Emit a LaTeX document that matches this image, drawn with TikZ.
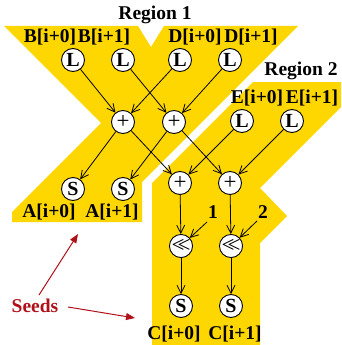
\documentclass[tikz,border=0pt]{standalone}
\usepackage{fontspec}
\setmainfont{Liberation Serif}
\usetikzlibrary{arrows.meta}
\definecolor{regfill}{HTML}{FFD700}
\definecolor{seedred}{HTML}{B0101A}
\tikzset{
  op/.style={circle, draw=black, line width=0.9pt, fill=white, minimum size=23pt, inner sep=0pt},
  opb/.style={op, font=\fontsize{20}{22}\selectfont\bfseries},
  opn/.style={op, font=\fontsize{23}{24}\selectfont},
  lbl/.style={font=\fontsize{19.5}{21}\selectfont\bfseries, inner sep=0pt},
  flow/.style={line width=0.8pt, -{Straight Barb[length=8pt,width=8pt,line width=0.8pt]}},
  seedarrow/.style={seedred, line width=1pt, -{Triangle[length=9pt,width=7pt]}}
}
\begin{document}
\begin{tikzpicture}[x=1pt,y=-1pt]
\useasboundingbox (0,0) rectangle (341,345);
% shaded regions
\fill[regfill] (4,26) -- (138,26) -- (151,47) -- (164,26) -- (298,26)
  -- (142,182) -- (142,222) -- (12,222) -- (12,212) -- (101,123) -- cycle;
\fill[regfill] (253,82) -- (341,82) -- (341,107) -- (260,188) -- (287,216)
  -- (260,243) -- (260,345) -- (152,345) -- (152,183) -- cycle;
% titles
\node[lbl] (r1) at (155,15) {Region 1};
\node[lbl] (r2) at (301,71) {Region 2};
% loads
\node[opb] (b0) at (73,60) {L};
\node[opb] (b1) at (123,60) {L};
\node[opb] (d0) at (180,60) {L};
\node[opb] (d1) at (230,60) {L};
\node[lbl] (lb0) at (50,37) {B[i+0]};
\node[lbl] (lb1) at (104,37) {B[i+1]};
\node[lbl] (ld0) at (195,37) {D[i+0]};
\node[lbl] (ld1) at (251,37) {D[i+1]};
\node[opb] (e0) at (242,121) {L};
\node[opb] (e1) at (292,121) {L};
\node[lbl] (le0) at (257,98) {E[i+0]};
\node[lbl] (le1) at (312,98) {E[i+1]};
% adders
\node[opn] (p1) at (123,122) {+};
\node[opn] (p2) at (174,122) {+};
\node[opn] (p3) at (180,183) {+};
\node[opn] (p4) at (230,183) {+};
% stores of region 1
\node[opb] (sa0) at (73,189) {S};
\node[opb] (sa1) at (123,189) {S};
\node[lbl] (la0) at (49,212) {A[i+0]};
\node[lbl] (la1) at (112,212) {A[i+1]};
% shifts
\node[opn] (sh0) at (181,246) {<\kern-7pt<};
\node[opn] (sh1) at (231,246) {<\kern-7pt<};
\node[lbl] (k1) at (213,212) {1};
\node[lbl] (k2) at (263,212) {2};
\coordinate (k1s) at (207,222);
\coordinate (k2s) at (257,221);
% stores of region 2
\node[opb] (sc0) at (181,306) {S};
\node[opb] (sc1) at (231,306) {S};
\node[lbl] (lc0) at (174,334) {C[i+0]};
\node[lbl] (lc1) at (235,334) {C[i+1]};
% data flow
\draw[flow] (b0) -- (p1);
\draw[flow] (d0) -- (p1);
\draw[flow] (b1) -- (p2);
\draw[flow] (d1) -- (p2);
\draw[flow] (p1) -- (sa0);
\draw[flow] (p2) -- (sa1);
\draw[flow] (p1) -- (p3);
\draw[flow] (p2) -- (p4);
\draw[flow] (e0) -- (p3);
\draw[flow] (e1) -- (p4);
\draw[flow] (p3) -- (sh0);
\draw[flow] (p4) -- (sh1);
\draw[flow] (sh0) -- (sc0);
\draw[flow] (sh1) -- (sc1);
\draw[flow] (k1s) -- (sh0);
\draw[flow] (k2s) -- (sh1);
% seeds
\node[font=\fontsize{19.5}{21}\selectfont\bfseries, text=seedred, inner sep=0pt] (seeds) at (35,306) {Seeds};
\coordinate (seedA0) at (39,295);
\coordinate (seedA) at (78,234);
\coordinate (seedC0) at (68,307);
\coordinate (seedC) at (135,318);
\draw[seedarrow] (seedA0) -- (seedA);
\draw[seedarrow] (seedC0) -- (seedC);
\end{tikzpicture}
\end{document}
